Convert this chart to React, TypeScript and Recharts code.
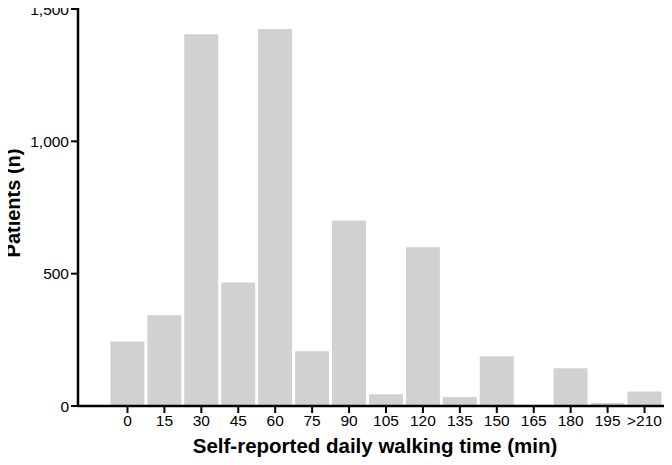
import React from 'react';
import { BarChart, Bar, XAxis, YAxis } from 'recharts';

const categories = ['0', '15', '30', '45', '60', '75', '90', '105', '120', '135', '150', '165', '180', '195', '>210'];
const patients = [244, 343, 1405, 467, 1424, 207, 701, 44, 600, 34, 188, 0, 143, 11, 55];
const yTicks = [0, 500, 1000, 1500];

const data = categories.map((c, i) => ({ time: c, patients: patients[i] }));

const fmt = (v: number) => v.toLocaleString('en-US');

const App = () => {
  return (
    <div style={{ margin: -8, fontFamily: '"Liberation Sans", Arial, sans-serif' }}>
      <BarChart
        width={672}
        height={465}
        data={data}
        margin={{ top: 0, right: 0, bottom: 0, left: 0 }}
        barCategoryGap={1.4}
      >
        <XAxis
          dataKey="time"
          height={59}
          padding={{ left: 31, right: 9 }}
          axisLine={{ stroke: '#000', strokeWidth: 2.5 }}
          tickLine={{ stroke: '#000', strokeWidth: 2 }}
          tickSize={7}
          tick={{ fill: '#000', fontSize: 15.5 }}
          interval={0}
          label={{
            value: 'Self-reported daily walking time (min)',
            position: 'insideBottom',
            offset: 12,
            fill: '#000',
            fontSize: 20.5,
            fontWeight: 'bold',
          }}
        />
        <YAxis
          width={78}
          domain={[0, 1534]}
          ticks={yTicks}
          tickFormatter={fmt}
          axisLine={{ stroke: '#000', strokeWidth: 2.5 }}
          tickLine={{ stroke: '#000', strokeWidth: 2 }}
          tickSize={7}
          tick={{ fill: '#000', fontSize: 15.5 }}
          allowDataOverflow
          label={{
            value: 'Patients (n)',
            angle: -90,
            position: 'insideLeft',
            offset: 13,
            style: { textAnchor: 'middle' },
            fill: '#000',
            fontSize: 20,
            fontWeight: 'bold',
          }}
        />
        <Bar dataKey="patients" fill="#d1d1d1" isAnimationActive={false} />
      </BarChart>
    </div>
  );
};

export default App;
